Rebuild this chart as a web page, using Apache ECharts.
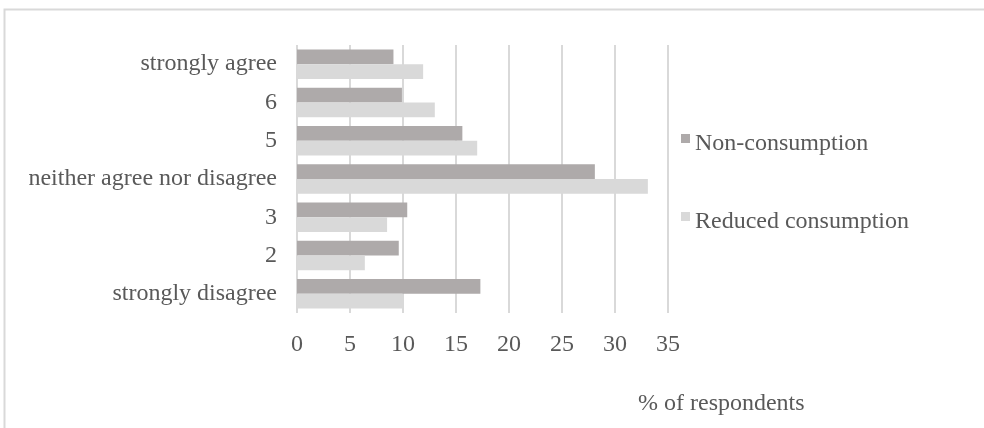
<!DOCTYPE html>
<html>
<head>
<meta charset="utf-8">
<script src="https://cdn.jsdelivr.net/npm/echarts@6/dist/echarts.min.js"></script>
<style>
html,body{margin:0;padding:0;background:#fff;}
#chart{width:984px;height:428px;}
</style>
</head>
<body>
<div id="chart"></div>
<script>
const categories = ['strongly agree', '6', '5', 'neither agree nor disagree', '3', '2', 'strongly disagree'];
const nonConsumption = [9.1, 9.9, 15.6, 28.1, 10.4, 9.6, 17.3];
const reducedConsumption = [11.9, 13.0, 17.0, 33.1, 8.5, 6.4, 10.0];
const seriesNames = ['Non-consumption', 'Reduced consumption'];
const xTicks = { min: 0, max: 35, interval: 5 };
const axisTitle = '% of respondents';

const FONT = '"Liberation Serif", "Times New Roman", serif';
const TXT = '#595959';

const chart = echarts.init(document.getElementById('chart'), null, { renderer: 'canvas' });
chart.setOption({
  animation: false,
  backgroundColor: '#ffffff',
  textStyle: { fontFamily: FONT, color: TXT },
  title: {
    text: axisTitle,
    left: 638,
    top: 392,
    padding: 0,
    textStyle: { fontFamily: FONT, fontSize: 24, fontWeight: 'normal', color: TXT }
  },
  graphic: [{
    type: 'rect',
    silent: true,
    shape: { x: 4.5, y: 9.5, width: 1200, height: 600 },
    style: { fill: 'none', stroke: '#d9d9d9', lineWidth: 2 }
  }],
  legend: {
    orient: 'vertical',
    left: 676,
    top: 116,
    itemWidth: 9,
    itemHeight: 9,
    itemGap: 43,
    icon: 'rect',
    formatter: '{a|{name}}',
    textStyle: {
      fontFamily: FONT, fontSize: 24, color: TXT,
      rich: { a: { fontFamily: FONT, fontSize: 24, color: TXT, lineHeight: 24, padding: [11, 0, 0, 0] } }
    },
    data: seriesNames
  },
  grid: { left: 297, right: 316, top: 45, bottom: 115, containLabel: false },
  xAxis: {
    type: 'value',
    min: xTicks.min,
    max: xTicks.max,
    interval: xTicks.interval,
    axisLine: { show: false },
    axisTick: { show: false },
    axisLabel: { fontFamily: FONT, fontSize: 24, color: TXT, margin: 20 },
    splitLine: { show: true, lineStyle: { color: '#d9d9d9', width: 2 } }
  },
  yAxis: {
    type: 'category',
    inverse: true,
    data: categories,
    axisLine: { show: false },
    axisTick: { show: false },
    axisLabel: { fontFamily: FONT, fontSize: 24, color: TXT, margin: 20 }
  },
  series: [
    {
      name: seriesNames[0],
      type: 'bar',
      data: nonConsumption,
      itemStyle: { color: '#aeaaaa' },
      barGap: '0%',
      barCategoryGap: '23%'
    },
    {
      name: seriesNames[1],
      type: 'bar',
      data: reducedConsumption,
      itemStyle: { color: '#d9d9d9' },
      barGap: '0%',
      barCategoryGap: '23%'
    }
  ]
});
</script>
</body>
</html>
